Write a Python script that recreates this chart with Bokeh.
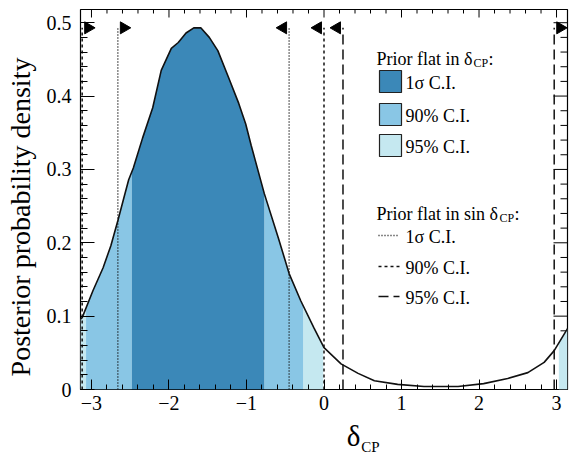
import numpy as np
from math import pi
from bokeh.plotting import figure
from bokeh.layouts import column
from bokeh.models import Range1d, FixedTicker, Label
from bokeh.core.properties import value
from bokeh.embed import file_html
from bokeh.resources import INLINE

# ---------------- data ----------------
delta_cp = [-3.1416, -3.12, -2.98, -2.85, -2.75, -2.66, -2.58, -2.52, -2.46, -2.34,
            -2.21, -2.10, -1.97, -1.88, -1.78, -1.68, -1.59, -1.48, -1.37, -1.23,
            -1.10, -1.01, -0.94, -0.77, -0.59, -0.45, -0.30, -0.13, 0.0, 0.22,
            0.44, 0.65, 0.95, 1.29, 1.73, 2.06, 2.37, 2.63, 2.84, 2.97, 3.1416]
density = [0.096, 0.098, 0.135, 0.166, 0.196, 0.230, 0.262, 0.286, 0.302, 0.343,
           0.384, 0.435, 0.465, 0.473, 0.486, 0.493, 0.493, 0.480, 0.462, 0.425,
           0.390, 0.362, 0.333, 0.267, 0.207, 0.158, 0.121, 0.084, 0.057, 0.035,
           0.022, 0.012, 0.007, 0.004, 0.004, 0.008, 0.015, 0.023, 0.037, 0.053, 0.083]

# credible intervals, prior flat in delta_CP (shaded)
ci_1sigma = [(-2.48, -0.77)]
ci_90 = [(-3.07, -2.48), (-0.77, -0.27)]
ci_95 = [(-3.1416, -3.07), (-0.27, -0.01), (3.03, 3.1416)]

# credible intervals, prior flat in sin delta_CP (vertical lines + arrow direction)
sin_1sigma_x = [-2.66, -0.45]
sin_1sigma_dir = [1, -1]
sin_90_x = [-3.12, 0.0]
sin_90_dir = [1, -1]
sin_95_x = [0.245, 2.97]
sin_95_dir = [-1, 1]
arrow_level = 0.493

x_ticks = [-3, -2, -1, 0, 1, 2, 3]
x_tick_labels = ["\u22123", "\u22122", "\u22121", "0", "1", "2", "3"]
y_ticks = [0, 0.1, 0.2, 0.3, 0.4, 0.5]
y_tick_labels = ["0", "0.1", "0.2", "0.3", "0.4", "0.5"]

legend_fill_labels = ["1\u03c3 C.I.", "90% C.I.", "95% C.I."]
legend_line_labels = ["1\u03c3 C.I.", "90% C.I.", "95% C.I."]

# ---------------- style ----------------
C_1S = "#3b88b8"
C_90 = "#89c6e5"
C_95 = "#c5e8f0"
FONT = "Liberation Serif"
DASH_1S = "1 2"
DASH_90 = "3 3"
DASH_95 = "10 5"

X0, X1 = -pi, pi
Y0, Y1 = 0.0, 0.518
W, H = 569, 455
H_MAIN = 420
FL, FR, FT, FB = 80, 567, 9, 389   # frame in page pixels


def sx(px):
    return X0 + (px - FL) / (FR - FL) * (X1 - X0)


def sy(py):
    return Y0 + (FB - py) / (FB - FT) * (Y1 - Y0)


DX = (X1 - X0) / (FR - FL)   # data units per pixel
DY = (Y1 - Y0) / (FB - FT)

p = figure(width=W, height=H_MAIN, x_range=Range1d(X0, X1), y_range=Range1d(Y0, Y1),
           output_backend="svg", toolbar_location=None,
           min_border_left=FL, min_border_right=W - FR, min_border_top=FT,
           min_border_bottom=H_MAIN - FB)
p.grid.visible = False
p.outline_line_color = "black"
p.outline_line_width = 1.2
p.background_fill_color = "white"
p.border_fill_color = "white"

x_minor = [round(v, 1) for v in np.arange(-3.2, 3.25, 0.2)]
y_minor = [round(v, 2) for v in np.arange(0, 0.52, 0.02)]
xt = FixedTicker(ticks=x_ticks, minor_ticks=x_minor)
yt = FixedTicker(ticks=y_ticks, minor_ticks=y_minor)

xa = p.xaxis[0]
xa.ticker = xt
xa.major_label_overrides = {t: l for t, l in zip(x_ticks, x_tick_labels)}
ya = p.yaxis[0]
ya.ticker = yt
ya.major_label_overrides = {t: l for t, l in zip(y_ticks, y_tick_labels)}

for ax, maj, mnr in ((xa, 10, 5), (ya, 14, 7)):
    ax.axis_line_color = None
    ax.major_tick_in = maj
    ax.major_tick_out = 0
    ax.minor_tick_in = mnr
    ax.minor_tick_out = 0
    ax.major_tick_line_color = "black"
    ax.minor_tick_line_color = "black"
    ax.major_label_text_font = FONT
    ax.major_label_text_font_size = "20px"
    ax.major_label_text_color = "black"

xa.major_label_standoff = 6
ya.major_label_standoff = 9
# trailing no-break spaces move the centred title down, as in the reference
ya.axis_label = "Posterior probability density" + "\u00a0" * 5
ya.axis_label_text_font = FONT
ya.axis_label_text_font_size = "28px"
ya.axis_label_text_font_style = "normal"
ya.axis_label_text_color = "black"
ya.axis_label_standoff = 8


# mirrored ticks on top and right edges of the frame
def mirror_x(ticks, length):
    p.segment(x0=ticks, y0=[Y1] * len(ticks), x1=ticks, y1=[Y1 - length * DY] * len(ticks),
              line_color="black", line_width=1)


def mirror_y(ticks, length):
    p.segment(x0=[X1] * len(ticks), y0=ticks, x1=[X1 - length * DX] * len(ticks), y1=ticks,
              line_color="black", line_width=1)


mirror_x(x_ticks, 8)
mirror_x([t for t in x_minor if t not in x_ticks], 4)
mirror_y(y_ticks, 14)
mirror_y([t for t in y_minor if t not in y_ticks], 7)


# ---------------- shaded bands ----------------
def band(a, b):
    xs = [a] + [x for x in delta_cp if a < x < b] + [b]
    ys = list(np.interp(xs, delta_cp, density))
    return xs, ys


for intervals, col in ((ci_95, C_95), (ci_90, C_90), (ci_1sigma, C_1S)):
    for a, b in intervals:
        xs, ys = band(a, b)
        p.varea(x=xs, y1=[0] * len(xs), y2=ys, fill_color=col)

p.line(delta_cp, density, line_color="#111111", line_width=1.6)

# ---------------- sin-prior interval lines with arrows ----------------
for xs_, dirs, dash in ((sin_1sigma_x, sin_1sigma_dir, DASH_1S),
                        (sin_90_x, sin_90_dir, DASH_90),
                        (sin_95_x, sin_95_dir, DASH_95)):
    p.segment(x0=xs_, y0=[0] * len(xs_), x1=xs_, y1=[arrow_level] * len(xs_),
              line_color="#111111", line_width=1.5, line_dash=dash)
    ax_ = [x + d * 6 * DX for x, d in zip(xs_, dirs)]
    ang = [-pi / 2 if d > 0 else pi / 2 for d in dirs]
    p.scatter(x=ax_, y=[arrow_level] * len(xs_), marker="triangle", size=12, angle=ang,
              fill_color="black", line_color="black")


# ---------------- legend texts ----------------
def lab(text, px, py, size="18px", align="left", baseline="alphabetic"):
    p.add_layout(Label(x=sx(px), y=sy(py), text=text, text_font=FONT, text_font_size=size,
                       text_align=align, text_baseline=baseline, text_color="black"))


lab("Prior flat in \u03b4", 376, 58)
lab("CP", 473, 62, size="12px")
lab(":", 488, 58)

box_tops = [70, 103, 134]
for t, col, txt in zip(box_tops, (C_1S, C_90, C_95), legend_fill_labels):
    p.quad(left=sx(379), right=sx(401), top=sy(t), bottom=sy(t + 22),
           fill_color=col, line_color="#222222", line_width=1.2)
    lab(txt, 405, t + 12, baseline="middle")

lab("Prior flat in sin \u03b4", 376, 213)
lab("CP", 499, 217, size="12px")
lab(":", 514, 213)

line_ys = [235, 266, 296]
for ly, dash, txt in zip(line_ys, (DASH_1S, DASH_90, DASH_95), legend_line_labels):
    p.segment(x0=[sx(378)], y0=[sy(ly)], x1=[sx(399)], y1=[sy(ly)],
              line_color="#111111", line_width=1.5, line_dash=dash)
    lab(txt, 405, ly + 1, baseline="middle")

# ---------------- x-axis title delta_CP (strip below, page-pixel coordinates) ----------------
xt_fig = figure(width=W, height=H - H_MAIN, x_range=Range1d(0, W), y_range=Range1d(H, H_MAIN),
                output_backend="svg", toolbar_location=None, x_axis_type=None,
                y_axis_type=None, min_border=0)
xt_fig.grid.visible = False
xt_fig.outline_line_color = None
xt_fig.background_fill_color = "white"
xt_fig.border_fill_color = "white"
xt_fig.text(x=[327], y=[435], text=["\u03b4"], text_font=value(FONT), text_font_size="29px",
            text_align="right", text_baseline="alphabetic", text_color="black")
xt_fig.text(x=[328], y=[446], text=["CP"], text_font=value(FONT), text_font_size="15px",
            text_align="left", text_baseline="alphabetic", text_color="black")

layout = column(p, xt_fig, spacing=0)
open("out.html", "w").write(file_html(layout, INLINE))
